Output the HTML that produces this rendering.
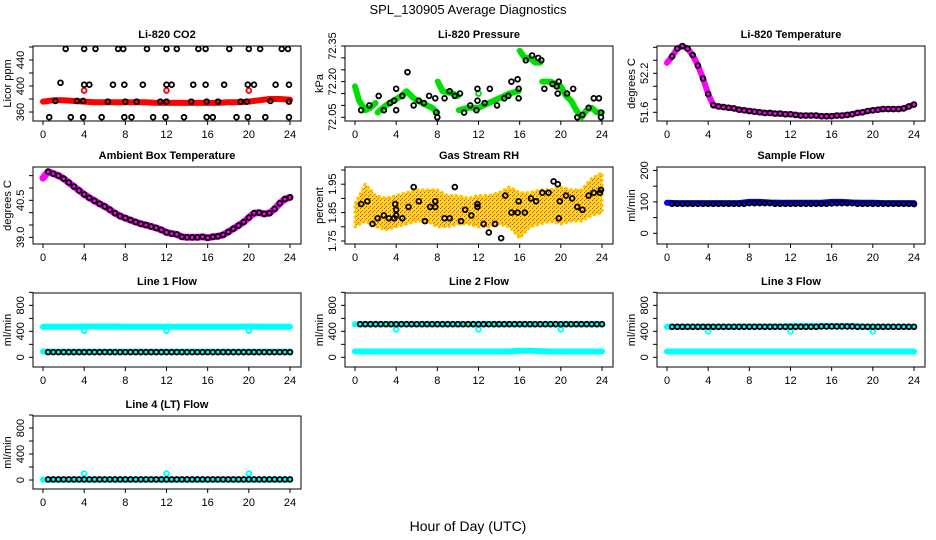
<!DOCTYPE html>
<html><head><meta charset="utf-8">
<style>
body{margin:0;background:#fff;}
svg{display:block;font-family:"Liberation Sans",sans-serif;}
</style></head>
<body>
<svg id="chart" width="936" height="540" viewBox="0 0 936 540">
<defs>
<pattern id="rhpat" width="4" height="4" patternUnits="userSpaceOnUse">
<rect width="4" height="4" fill="#ffe000"/><rect x="0" y="0" width="1" height="1" fill="#ff2000"/><rect x="2" y="2" width="1" height="1" fill="#ff2000"/><rect x="1" y="3" width="1" height="1" fill="#ff8000"/>
</pattern>
</defs>
<text x="468" y="14" text-anchor="middle" font-size="13">SPL_130905  Average Diagnostics</text>
<text x="468" y="531" text-anchor="middle" font-size="14">Hour of Day (UTC)</text>
</svg>
<script>
// ---- data ----
const hourTimes = [0,1,2,3,4,5,6,7,8,9,10,11,12,13,14,15,16,17,18,19,20,21,22,23,24];
const halfTimes = [0,0.5,1,1.5,2,2.5,3,3.5,4,4.5,5,5.5,6,6.5,7,7.5,8,8.5,9,9.5,10,10.5,11,11.5,12,12.5,13,13.5,14,14.5,15,15.5,16,16.5,17,17.5,18,18.5,19,19.5,20,20.5,21,21.5,22,22.5,23,23.5,24];
const blackTimes = [0.5,1,1.5,2,2.5,3,3.5,4,4.5,5,5.5,6,6.5,7,7.5,8,8.5,9,9.5,10,10.5,11,11.5,12,12.5,13,13.5,14,14.5,15,15.5,16,16.5,17,17.5,18,18.5,19,19.5,20,20.5,21,21.5,22,22.5,23,23.5,24];
const outlierTimes = [4,12,20];

const co2Red = [376,378,378,377,376,375,375,375,375,375,375,374,374,374,374,374,374,374,375,375,376,378,380,380,379];
const co2RedOut = [393,393,393];
const co2BlackT = [2.2,4,5.1,7.3,7.8,10.1,12,13,15.1,15.8,18.1,20,21.1,23.2,23.8, 1.7,4,4.5,6.8,7.9,9.7,12,12.5,14.6,15.8,17.6,19.9,20.5,22.6,23.9, 1.2,3.3,3.9,6.3,8,9.1,11.4,12,14.4,15.9,17,19.2,19.8,22.1,23.9, 0.6,2.7,3.9,5.7,7.9,8.6,10.7,11.9,13.7,15.9,16.5,18.8,19.9,21.6,23.9];
const co2BlackV = [457,457,457,457,457,457,457,457,457,457,457,457,457,457,457, 405,402,402,402,402,402,402,402,402,402,402,402,402,402,402, 377,377,377,376,376,376,376,376,376,376,376,376,376,377,376, 352,352,352,352,352,352,352,352,352,352,352,352,352,352,352];

const pressSegT = [[0,0.4,1,1.5,2],[2.2,3,4.5,5,5.7,6.5,7.5,8],[8.05,8.5,9.5,10],[10.1,11,12,13,14,15,15.9],[16,16.5,17,17.5,18],[18.2,19,20,20.5,21,21.5,22,22.5,23,23.5,24]];
const pressSegV = [[72.18,72.12,72.08,72.09,72.11],[72.07,72.10,72.14,72.16,72.13,72.11,72.09,72.07],[72.20,72.16,72.15,72.14],[72.08,72.09,72.09,72.11,72.13,72.15,72.16],[72.33,72.30,72.30,72.28,72.28],[72.20,72.20,72.18,72.14,72.12,72.08,72.05,72.08,72.09,72.07,72.07]];
const pressGreenOut = [72.15];
const pressBlackT = [0.6,1.4,2.3,2.8,3.4,3.8,4,4,4.6,5.1,5.7,6.2,6.7,7.2,7.8,7.9,8,8.7,9.2,9.7,10.2,10.6,11.2,11.8,11.9,11.9,12.6,13.1,13.8,14.5,14.9,15.2,15.8,15.9,15.9,16.6,17.2,17.8,18.1,18.4,19.2,19.6,19.7,19.8,20.6,21.2,21.6,22.1,22.7,23.2,23.7,23.9,23.9];
const pressBlackV = [72.08,72.10,72.14,72.08,72.11,72.12,72.08,72.17,72.14,72.24,72.10,72.12,72.11,72.14,72.13,72.07,72.05,72.13,72.16,72.14,72.15,72.07,72.10,72.08,72.12,72.17,72.11,72.17,72.10,72.13,72.14,72.20,72.21,72.17,72.13,72.29,72.31,72.30,72.29,72.17,72.19,72.18,72.15,72.20,72.15,72.17,72.05,72.06,72.09,72.13,72.13,72.07,72.05];

const licorTemp = [52.36,52.46,52.58,52.62,52.58,52.48,52.32,52.12,51.88,51.71,51.69,51.68,51.67,51.66,51.64,51.63,51.62,51.61,51.60,51.59,51.59,51.58,51.58,51.57,51.57,51.56,51.55,51.55,51.55,51.55,51.54,51.54,51.54,51.55,51.55,51.56,51.57,51.59,51.60,51.62,51.63,51.64,51.65,51.65,51.65,51.65,51.66,51.69,51.72];
const ambTemp = [41.4,41.66,41.58,41.5,41.38,41.22,41.06,40.9,40.74,40.6,40.48,40.36,40.25,40.12,39.98,39.86,39.78,39.7,39.62,39.55,39.5,39.44,39.38,39.3,39.2,39.15,39.12,39.02,39.0,39.0,39.0,39.02,38.98,39.02,39.04,39.1,39.22,39.35,39.48,39.62,39.8,39.98,40.0,39.95,39.98,40.15,40.38,40.55,40.62];

const rhLow  = [1.80,1.82,1.80,1.79,1.80,1.81,1.82,1.82,1.80,1.80,1.81,1.81,1.80,1.80,1.81,1.80,1.76,1.80,1.81,1.82,1.81,1.82,1.82,1.84,1.85];
const rhHigh = [1.88,1.95,1.91,1.90,1.91,1.92,1.93,1.93,1.93,1.91,1.91,1.90,1.91,1.91,1.92,1.94,1.92,1.92,1.93,1.93,1.94,1.93,1.93,1.97,1.99];
const rhBlackT = [0.6,1.2,1.7,2.2,2.8,3.3,3.8,3.9,4,4,4.6,5.2,5.7,6.2,6.8,7.3,7.8,7.8,8.7,9.2,9.7,10.3,10.7,11.3,11.9,11.9,12.5,13,13.6,14.2,14.6,15.2,15.8,15.9,16.5,17.1,17.6,18.2,18.8,19.3,19.7,19.8,19.9,20.5,21.1,21.6,22.1,22.7,23.2,23.8,23.9];
const rhBlackV = [1.88,1.89,1.81,1.83,1.84,1.83,1.83,1.88,1.86,1.84,1.83,1.87,1.94,1.89,1.82,1.87,1.87,1.89,1.83,1.83,1.94,1.82,1.86,1.84,1.88,1.87,1.81,1.78,1.81,1.76,1.91,1.85,1.85,1.89,1.85,1.90,1.89,1.92,1.92,1.96,1.95,1.83,1.89,1.91,1.90,1.87,1.86,1.91,1.92,1.92,1.93];

const sampleBlue = [97,96,96,96,96,96,96,96,100,100,98,97,97,97,97,97,100,100,98,97,97,96,96,96,96];
const sampleBlack = [94,94,94,94,94,94,94,94,94,94,94,94,94,94,94,96,96,96,96,96,94,94,94,94,94,94,94,94,94,94,94,95,96,96,96,96,94,94,94,94,94,94,94,94,94,94,94,93];

const line1High = [470,470,470,470,475,475,475,475,470,470,470,470,470,470,470,470,470,470,470,470,475,470,470,470,470];
const line1Low  = [90,88,88,88,88,88,88,88,88,88,88,88,88,88,88,88,88,88,88,88,88,88,88,88,88];
const line1Black = [80,80,80,80,80,80,80,80,80,80,80,80,80,80,80,80,80,80,80,80,80,80,80,80,80,80,80,80,80,80,80,80,80,80,80,80,80,80,80,80,80,80,80,80,80,80,80,80];
const line1Out = [410,410,410];

const line2High = [510,510,510,510,510,510,510,510,510,510,510,510,510,510,510,510,510,510,510,510,510,510,510,510,510];
const line2Low  = [90,90,90,90,90,90,90,90,90,90,90,90,90,90,90,90,100,100,95,90,90,90,90,90,90];
const line2Black = [510,510,510,510,510,510,510,510,510,510,510,510,510,510,510,510,510,510,510,510,510,510,510,510,510,510,510,510,510,510,510,510,510,510,510,510,510,510,510,510,510,510,510,510,510,510,510,510];
const line2Out = [430,430,430];

const line3High = [470,470,470,470,470,470,470,475,475,475,475,475,480,480,480,480,480,480,480,475,470,470,470,470,470];
const line3Low  = [90,90,90,90,90,90,90,90,90,90,90,90,90,90,90,90,90,90,90,90,90,90,90,90,90];
const line3Black = [470,470,470,470,470,470,470,470,470,470,470,470,470,470,470,470,470,470,470,470,470,470,470,470,470,470,470,470,470,475,475,475,475,475,475,475,470,470,470,470,470,470,470,470,470,470,470,470];
const line3Out = [400,400,400];

const line4Cyan = [5,5,5,5,5,5,5,5,5,5,5,5,5,5,5,5,5,5,5,5,5,5,5,5,5];
const line4Black = [10,10,10,10,10,10,10,10,10,10,10,10,10,10,10,10,10,10,10,10,10,10,10,10,10,10,10,10,10,10,10,10,10,10,10,10,10,10,10,10,10,10,10,10,10,10,10,10];
const line4Out = [100,100,100];

// ---- rendering ----
const NS = "http://www.w3.org/2000/svg";
const svg = document.getElementById('chart');
function mk(tag, attrs, parent){const e=document.createElementNS(NS,tag);for(const k in attrs)e.setAttribute(k,attrs[k]);(parent||svg).appendChild(e);return e;}

const panels = [
 {key:'co2',title:'Li-820 CO2',bx:33,by:46,h:75,ymin:346.2,ymax:461.5,ticks:[360,380,400,420,440,460],labels:[360,400,440],ytitle:'Licor ppm'},
 {key:'pressure',title:'Li-820 Pressure',bx:345,by:46,h:75,ymin:72.0344,ymax:72.35,ticks:[72.05,72.10,72.15,72.20,72.25,72.30,72.35],labels:['72.05','72.20','72.35'],ytitle:'kPa'},
 {key:'licor-temp',title:'Li-820 Temperature',bx:657,by:46,h:75,ymin:51.466,ymax:52.62,ticks:[51.6,51.8,52.0,52.2,52.4,52.6],labels:['51.6','52.2'],ytitle:'degrees C'},
 {key:'ambient-temp',title:'Ambient Box Temperature',bx:33,by:167,h:77,ymin:38.73,ymax:41.85,ticks:[39,39.5,40,40.5,41,41.5],labels:['39.0','40.5'],ytitle:'degrees C'},
 {key:'rh',title:'Gas Stream RH',bx:345,by:167,h:77,ymin:1.7394,ymax:2.0106,ticks:[1.75,1.8,1.85,1.9,1.95,2.0],labels:['1.75','1.85','1.95'],ytitle:'percent'},
 {key:'sample-flow',title:'Sample Flow',bx:657,by:167,h:77,ymin:-34,ymax:211,ticks:[0,50,100,150,200],labels:[0,100,200],ytitle:'ml/min'},
 {key:'line1',title:'Line 1 Flow',bx:33,by:293,h:74,ymin:-149,ymax:990,ticks:[0,200,400,600,800,1000],labels:[0,400,800],ytitle:'ml/min'},
 {key:'line2',title:'Line 2 Flow',bx:345,by:293,h:74,ymin:-149,ymax:990,ticks:[0,200,400,600,800,1000],labels:[0,400,800],ytitle:'ml/min'},
 {key:'line3',title:'Line 3 Flow',bx:657,by:293,h:74,ymin:-149,ymax:990,ticks:[0,200,400,600,800,1000],labels:[0,400,800],ytitle:'ml/min'},
 {key:'line4',title:'Line 4 (LT) Flow',bx:33,by:416,h:73,ymin:-138,ymax:985,ticks:[0,200,400,600,800,1000],labels:[0,400,800],ytitle:'ml/min'}
];
const W = 268;
const xTicks = [0,4,8,12,16,20,24];

function axes(p){
  const g = mk('g',{});
  
  
  const xs = t => p.bx+10+t*(W-21)/24;
  const ys = v => p.by+p.h-(v-p.ymin)/(p.ymax-p.ymin)*p.h;
  p.xs=xs; p.ys=ys; p.g=g;
  const t = mk('text',{x:p.bx+W/2,y:p.by-8,'text-anchor':'middle','font-size':11,'font-weight':'bold'},g);
  t.textContent = p.title;
  
  
  const b = mk('rect',{x:p.bx,y:p.by,width:W,height:p.h,fill:'none',stroke:'#000','stroke-width':1},g);
  
  
  const xa = mk('g',{},g);
  
  
  mk('line',{x1:xs(0),x2:xs(24),y1:p.by+p.h,y2:p.by+p.h,stroke:'#000'},xa);
  xTicks.forEach(v=>{
    mk('line',{x1:xs(v),x2:xs(v),y1:p.by+p.h,y2:p.by+p.h+4,stroke:'#000'},xa);
    const l = mk('text',{x:xs(v),y:p.by+p.h+17,'text-anchor':'middle','font-size':11},xa);
    l.textContent = v;
  });
  const ya = mk('g',{},g);
  
  
  mk('line',{x1:p.bx,x2:p.bx,y1:ys(p.ticks[0]),y2:ys(p.ticks[p.ticks.length-1]),stroke:'#000'},ya);
  p.ticks.forEach(v=>{ mk('line',{x1:p.bx-4,x2:p.bx,y1:ys(v),y2:ys(v),stroke:'#000'},ya); });
  p.labels.forEach(v=>{
    const yy = ys(+v), xx = p.bx-9;
    const l = mk('text',{x:xx,y:yy,'text-anchor':'middle','font-size':11,transform:`rotate(-90 ${xx} ${yy})`},ya);
    l.textContent = v;
  });
  const yt = mk('text',{x:p.bx-22,y:p.by+p.h/2,'text-anchor':'middle','font-size':11,transform:`rotate(-90 ${p.bx-22} ${p.by+p.h/2})`},g);
  yt.textContent = p.ytitle;
  
  
}
function band(p, ts, vs, color, w, name){
  const pts = ts.map((t,i)=>p.xs(t).toFixed(1)+','+p.ys(vs[i]).toFixed(1)).join(' ');
  const pl = mk('polyline',{points:pts,fill:'none',stroke:color,'stroke-width':w,'stroke-linecap':'round','stroke-linejoin':'round'},p.g);
  
  
}
function points(p, ts, vs, color, name, r){
  const g = mk('g',{},p.g);
  
  
  ts.forEach((t,i)=>{
    mk('circle',{cx:p.xs(t),cy:p.ys(vs[i]),r:r||2.4,fill:'none',stroke:color,'stroke-width':1.8},g);
  });
}
panels.forEach(axes);
const P = {}; panels.forEach(p=>P[p.key]=p);

// CO2
band(P.co2, hourTimes, co2Red, '#ff0000', 6, 'co2-red-series');
points(P.co2, outlierTimes, co2RedOut, '#ff0000', 'co2-red-outliers');
points(P.co2, co2BlackT, co2BlackV, '#000', 'co2-black-points');
// Pressure
pressSegT.forEach((seg,i)=>band(P.pressure, seg, pressSegV[i], '#00e000', 6, 'pressure-green-series'));
points(P.pressure, [12], pressGreenOut, '#00e000', 'pressure-green-outlier');
points(P.pressure, pressBlackT, pressBlackV, '#000', 'pressure-black-points');
// Licor temp
band(P['licor-temp'], halfTimes, licorTemp, '#ff00ff', 6, 'licor-temp-magenta-series');
points(P['licor-temp'], halfTimes.slice(1), licorTemp.slice(1), '#000', 'licor-temp-black-points');
// Ambient
band(P['ambient-temp'], halfTimes, ambTemp, '#ff00ff', 7, 'ambient-magenta-series');
points(P['ambient-temp'], halfTimes.slice(1), ambTemp.slice(1), '#000', 'ambient-black-points');
// RH band
(function(){
  const p = P.rh;
  const up = hourTimes.map((t,i)=>p.xs(t).toFixed(1)+','+p.ys(rhHigh[i]).toFixed(1));
  const dn = hourTimes.map((t,i)=>p.xs(t).toFixed(1)+','+p.ys(rhLow[i]).toFixed(1)).reverse();
  const pg = mk('polygon',{points:up.concat(dn).join(' '),fill:'url(#rhpat)',stroke:'#ffc000','stroke-width':3,'stroke-linejoin':'round','stroke-dasharray':'3 2'},p.g);
  
  
})();
points(P.rh, rhBlackT, rhBlackV, '#000', 'rh-black-points');
// Sample flow
band(P['sample-flow'], hourTimes, sampleBlue, '#0000ff', 6, 'sample-flow-blue-series');
points(P['sample-flow'], blackTimes, sampleBlack, '#000', 'sample-flow-black-points');
// Lines
band(P.line1, hourTimes, line1High, '#00ffff', 6, 'line1-cyan-high');
band(P.line1, hourTimes, line1Low, '#00ffff', 6, 'line1-cyan-low');
points(P.line1, outlierTimes, line1Out, '#00ffff', 'line1-cyan-outliers');
points(P.line1, blackTimes, line1Black, '#000', 'line1-black-points');
band(P.line2, hourTimes, line2Low, '#00ffff', 6, 'line2-cyan-low');
band(P.line2, hourTimes, line2High, '#00ffff', 6, 'line2-cyan-high');
points(P.line2, outlierTimes, line2Out, '#00ffff', 'line2-cyan-outliers');
points(P.line2, blackTimes, line2Black, '#000', 'line2-black-points');
band(P.line3, hourTimes, line3Low, '#00ffff', 6, 'line3-cyan-low');
band(P.line3, hourTimes, line3High, '#00ffff', 6, 'line3-cyan-high');
points(P.line3, outlierTimes, line3Out, '#00ffff', 'line3-cyan-outliers');
points(P.line3, blackTimes, line3Black, '#000', 'line3-black-points');
band(P.line4, hourTimes, line4Cyan, '#00ffff', 6, 'line4-cyan-series');
points(P.line4, outlierTimes, line4Out, '#00ffff', 'line4-cyan-outliers');
points(P.line4, blackTimes, line4Black, '#000', 'line4-black-points');
</script>
</body></html>
